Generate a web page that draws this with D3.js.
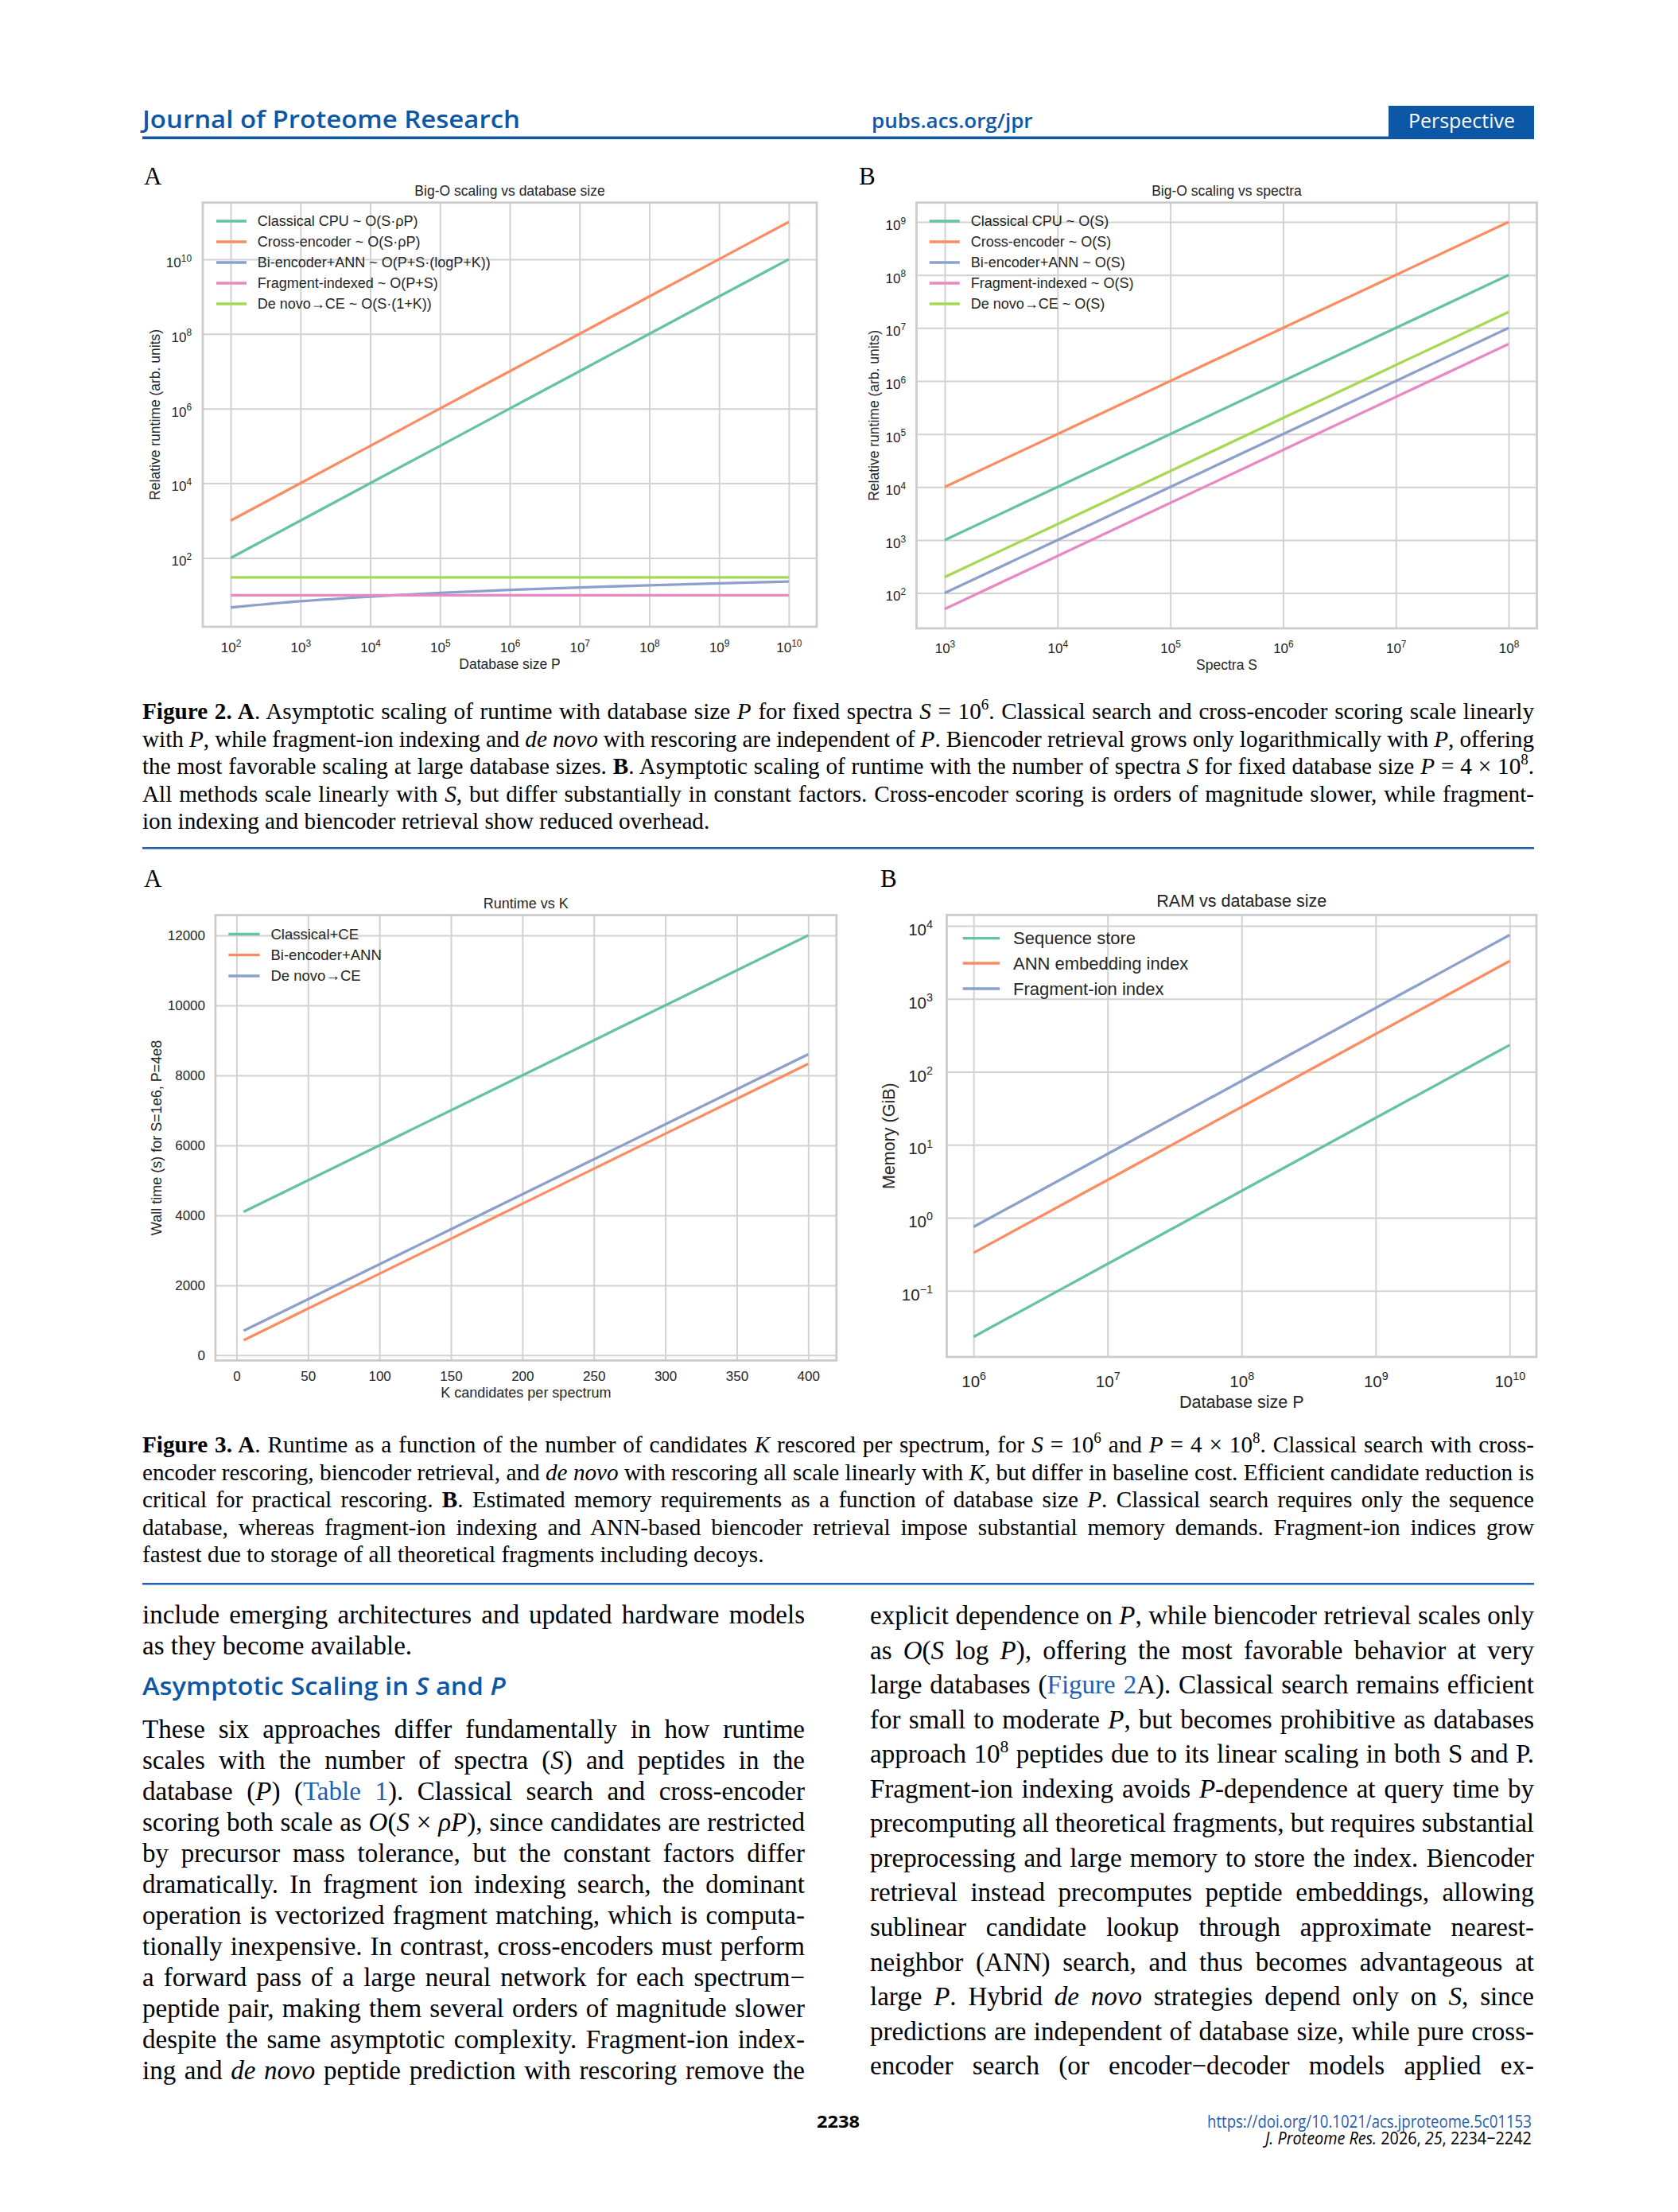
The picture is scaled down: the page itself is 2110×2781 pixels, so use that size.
<!DOCTYPE html>
<html>
<head>
<meta charset="utf-8">
<script src="https://cdn.jsdelivr.net/npm/d3@7"></script>
<style>
  body { margin: 0; background: #fff; }
  svg { display: block; }
</style>
</head>
<body>
<script>
/*    ========    DATA    =========    */

// Figure 2A : runtime vs database size P (S fixed)
var fig2a_P = [1e2, 1e3, 1e4, 1e5, 1e6, 1e7, 1e8, 1e9, 1e10];
var fig2a_classical = [1e2, 1e3, 1e4, 1e5, 1e6, 1e7, 1e8, 1e9, 1e10];
var fig2a_cross = [1e3, 1e4, 1e5, 1e6, 1e7, 1e8, 1e9, 1e10, 1e11];
var fig2a_biencoder = [4.7, 6.9, 9.2, 11.6, 13.9, 16.2, 18.5, 20.9, 23.2];
var fig2a_fragment = [10, 10, 10, 10, 10, 10, 10, 10, 10];
var fig2a_denovo = [30, 30, 30, 30, 30, 30, 30, 30, 30];
var fig2a_labels = ["Classical CPU ~ O(S·ρP)", "Cross-encoder ~ O(S·ρP)",
    "Bi-encoder+ANN ~ O(P+S·(logP+K))", "Fragment-indexed ~ O(P+S)", "De novo→CE ~ O(S·(1+K))"];
var fig2a_xticks = [1e2, 1e3, 1e4, 1e5, 1e6, 1e7, 1e8, 1e9, 1e10];
var fig2a_yticks = [1e2, 1e4, 1e6, 1e8, 1e10];

// Figure 2B : runtime vs spectra S (P fixed)
var fig2b_S = [1e3, 1e4, 1e5, 1e6, 1e7, 1e8];
var fig2b_classical = [1e3, 1e4, 1e5, 1e6, 1e7, 1e8];
var fig2b_cross = [1e4, 1e5, 1e6, 1e7, 1e8, 1e9];
var fig2b_biencoder = [1e2, 1e3, 1e4, 1e5, 1e6, 1e7];
var fig2b_fragment = [50, 500, 5e3, 5e4, 5e5, 5e6];
var fig2b_denovo = [200, 2e3, 2e4, 2e5, 2e6, 2e7];
var fig2b_labels = ["Classical CPU ~ O(S)", "Cross-encoder ~ O(S)", "Bi-encoder+ANN ~ O(S)",
    "Fragment-indexed ~ O(S)", "De novo→CE ~ O(S)"];
var fig2b_xticks = [1e3, 1e4, 1e5, 1e6, 1e7, 1e8];
var fig2b_yticks = [1e2, 1e3, 1e4, 1e5, 1e6, 1e7, 1e8, 1e9];

// Figure 3A : wall time vs K
var fig3a_K = [5, 50, 100, 150, 200, 250, 300, 350, 400];
var fig3a_classical = [4100, 5000, 6000, 7000, 8000, 9000, 10000, 11000, 12000];
var fig3a_biencoder = [430, 1330, 2330, 3330, 4330, 5330, 6330, 7330, 8330];
var fig3a_denovo = [700, 1600, 2600, 3600, 4600, 5600, 6600, 7600, 8600];
var fig3a_labels = ["Classical+CE", "Bi-encoder+ANN", "De novo→CE"];
var fig3a_xticks = [0, 50, 100, 150, 200, 250, 300, 350, 400];
var fig3a_yticks = [0, 2000, 4000, 6000, 8000, 10000, 12000];

// Figure 3B : memory vs database size
var fig3b_P = [1e6, 1e7, 1e8, 1e9, 1e10];
var fig3b_sequence = [0.0233, 0.233, 2.33, 23.3, 233];
var fig3b_ann = [0.33, 3.3, 33, 330, 3300];
var fig3b_fragment = [0.75, 7.5, 75, 750, 7500];
var fig3b_labels = ["Sequence store", "ANN embedding index", "Fragment-ion index"];
var fig3b_xticks = [1e6, 1e7, 1e8, 1e9, 1e10];
var fig3b_yticks = [1e-1, 1e0, 1e1, 1e2, 1e3, 1e4];

// Page text
var caption2 = [
    "<b>Figure 2. A</b>. Asymptotic scaling of runtime with database size <i>P</i> for fixed spectra <i>S</i> = 10<sup>6</sup>. Classical search and cross-encoder scoring scale linearly",
    "with <i>P</i>, while fragment-ion indexing and <i>de novo</i> with rescoring are independent of <i>P</i>. Biencoder retrieval grows only logarithmically with <i>P</i>, offering",
    "the most favorable scaling at large database sizes. <b>B</b>. Asymptotic scaling of runtime with the number of spectra <i>S</i> for fixed database size <i>P</i> = 4 × 10<sup>8</sup>.",
    "All methods scale linearly with <i>S</i>, but differ substantially in constant factors. Cross-encoder scoring is orders of magnitude slower, while fragment-",
    "ion indexing and biencoder retrieval show reduced overhead."
];
var caption3 = [
    "<b>Figure 3. A</b>. Runtime as a function of the number of candidates <i>K</i> rescored per spectrum, for <i>S</i> = 10<sup>6</sup> and <i>P</i> = 4 × 10<sup>8</sup>. Classical search with cross-",
    "encoder rescoring, biencoder retrieval, and <i>de novo</i> with rescoring all scale linearly with <i>K</i>, but differ in baseline cost. Efficient candidate reduction is",
    "critical for practical rescoring. <b>B</b>. Estimated memory requirements as a function of database size <i>P</i>. Classical search requires only the sequence",
    "database, whereas fragment-ion indexing and ANN-based biencoder retrieval impose substantial memory demands. Fragment-ion indices grow",
    "fastest due to storage of all theoretical fragments including decoys."
];
var bodyLeftTop = [
    "include emerging architectures and updated hardware models",
    "as they become available."
];
var bodyLeft = [
    "These six approaches differ fundamentally in how runtime",
    "scales with the number of spectra (<i>S</i>) and peptides in the",
    "database (<i>P</i>) (<a>Table 1</a>). Classical search and cross-encoder",
    "scoring both scale as <i>O</i>(<i>S</i> × <i>ρP</i>), since candidates are restricted",
    "by precursor mass tolerance, but the constant factors differ",
    "dramatically. In fragment ion indexing search, the dominant",
    "operation is vectorized fragment matching, which is computa-",
    "tionally inexpensive. In contrast, cross-encoders must perform",
    "a forward pass of a large neural network for each spectrum−",
    "peptide pair, making them several orders of magnitude slower",
    "despite the same asymptotic complexity. Fragment-ion index-",
    "ing and <i>de novo</i> peptide prediction with rescoring remove the"
];
var bodyRight = [
    "explicit dependence on <i>P</i>, while biencoder retrieval scales only",
    "as <i>O</i>(<i>S</i> log <i>P</i>), offering the most favorable behavior at very",
    "large databases (<a>Figure 2</a>A). Classical search remains efficient",
    "for small to moderate <i>P</i>, but becomes prohibitive as databases",
    "approach 10<sup>8</sup> peptides due to its linear scaling in both S and P.",
    "Fragment-ion indexing avoids <i>P</i>-dependence at query time by",
    "precomputing all theoretical fragments, but requires substantial",
    "preprocessing and large memory to store the index. Biencoder",
    "retrieval instead precomputes peptide embeddings, allowing",
    "sublinear candidate lookup through approximate nearest-",
    "neighbor (ANN) search, and thus becomes advantageous at",
    "large <i>P</i>. Hybrid <i>de novo</i> strategies depend only on <i>S</i>, since",
    "predictions are independent of database size, while pure cross-",
    "encoder search (or encoder−decoder models applied ex-"
];

/*    ========    SETTINGS    =========    */

var W = 2110, H = 2781;
var C_GREEN = "#66c2a5", C_ORANGE = "#fc8d62", C_BLUE = "#8da0cb", C_PINK = "#e78ac3", C_LIME = "#a6d854";
var GRID = "#d2d2d2", FRAME = "#cccccc", INK = "#262626";
var ACS_BLUE = "#0d58a6", LINK = "#1f60b0";
var SANS = "'Liberation Sans', Arial, 'DejaVu Sans', sans-serif";
var SERIF = "'Liberation Serif', 'Times New Roman', serif";
var HEAD = "'Open Sans', 'Noto Sans', sans-serif";

var svg = d3.select("body").append("svg").attr("width", W).attr("height", H);
svg.append("rect").attr("width", W).attr("height", H).attr("fill", "#fff");

/*    ========    FUNCTIONS    =========    */

// 5% margins like matplotlib, in log or linear space
function padDomain(vals, isLog) {
    var ex = d3.extent(vals);
    if (isLog) {
        var lo = Math.log10(ex[0]), hi = Math.log10(ex[1]), d = (hi - lo) * 0.05;
        return [Math.pow(10, lo - d), Math.pow(10, hi + d)];
    }
    var m = (ex[1] - ex[0]) * 0.05;
    return [ex[0] - m, ex[1] + m];
}

function supLabels(sel, fs) {
    sel.each(function(d) {
        var e = Math.round(Math.log10(d));
        var t = d3.select(this).text(null);
        t.append("tspan").text("10");
        t.append("tspan").attr("dy", -0.42 * fs).attr("font-size", 0.7 * fs)
            .text(e < 0 ? "−" + (-e) : String(e));
    });
}

function drawChart(c) {
    var g = svg.append("g").attr("font-family", SANS).attr("fill", INK);
    var x0 = c.box[0], y0 = c.box[1], x1 = c.box[2], y1 = c.box[3];
    var w = x1 - x0, h = y1 - y0;
    var allY = [].concat.apply([], c.series.map(function(s) { return s.values; }));

    var xs = (c.xlog ? d3.scaleLog() : d3.scaleLinear()).domain(padDomain(c.x, c.xlog)).range([x0, x1]);
    var ys = (c.ylog ? d3.scaleLog() : d3.scaleLinear()).domain(padDomain(allY, c.ylog)).range([y1, y0]);

    // gridlines
    g.append("g").attr("class", "grid").attr("transform", "translate(0," + y1 + ")")
        .call(d3.axisBottom(xs).tickValues(c.xTicks).tickSize(-h).tickFormat(""));
    g.append("g").attr("class", "grid").attr("transform", "translate(" + x0 + ",0)")
        .call(d3.axisLeft(ys).tickValues(c.yTicks).tickSize(-w).tickFormat(""));
    g.selectAll(".grid .domain").remove();
    g.selectAll(".grid line").attr("stroke", GRID).attr("stroke-width", 2);

    // frame
    g.append("rect").attr("x", x0).attr("y", y0).attr("width", w).attr("height", h)
        .attr("fill", "none").attr("stroke", FRAME).attr("stroke-width", 2.8);

    // series
    var line = d3.line()
        .x(function(d) { return xs(d[0]); })
        .y(function(d) { return ys(d[1]); })
        .curve(d3.curveMonotoneX);
    c.series.forEach(function(s) {
        g.append("path").datum(d3.zip(c.x, s.values))
            .attr("d", line).attr("fill", "none")
            .attr("stroke", s.color).attr("stroke-width", 3.3);
    });

    // x tick labels
    var xa = g.append("g").attr("transform", "translate(0," + c.xTickY + ")")
        .call(d3.axisBottom(xs).tickValues(c.xTicks).tickSize(0).tickPadding(0)
            .tickFormat(c.xlog ? function() { return ""; } : d3.format("d")));
    xa.select(".domain").remove();
    xa.attr("font-size", null).attr("font-family", null);
    xa.selectAll("text").attr("y", 0).attr("dy", null).attr("fill", INK).attr("font-size", c.tickFs);
    if (c.xlog) supLabels(xa.selectAll("text"), c.tickFs);

    // y tick labels
    var ya = g.append("g").attr("transform", "translate(" + c.yTickX + ",0)")
        .call(d3.axisLeft(ys).tickValues(c.yTicks).tickSize(0).tickPadding(0)
            .tickFormat(c.ylog ? function() { return ""; } : d3.format("d")));
    ya.select(".domain").remove();
    ya.attr("font-size", null).attr("font-family", null);
    ya.selectAll("text").attr("x", 0).attr("dy", c.yDy * c.tickFs).attr("fill", INK).attr("font-size", c.tickFs);
    if (c.ylog) supLabels(ya.selectAll("text"), c.tickFs);

    // title and axis labels
    g.append("text").attr("x", (x0 + x1) / 2).attr("y", c.titleY).attr("text-anchor", "middle")
        .attr("font-size", c.fs).text(c.title);
    g.append("text").attr("x", (x0 + x1) / 2).attr("y", c.xlabY).attr("text-anchor", "middle")
        .attr("font-size", c.fs).text(c.xlab);
    g.append("text").attr("transform", "translate(" + c.ylabX + "," + ((y0 + y1) / 2) + ") rotate(-90)")
        .attr("text-anchor", "middle").attr("font-size", c.fs).text(c.ylab);

    // legend
    c.series.forEach(function(s, i) {
        var yy = c.leg.rows[i];
        g.append("line").attr("x1", c.leg.lx[0]).attr("x2", c.leg.lx[1]).attr("y1", yy).attr("y2", yy)
            .attr("stroke", s.color).attr("stroke-width", 3.3);
        g.append("text").attr("x", c.leg.tx).attr("y", yy + 0.35 * c.legFs)
            .attr("font-size", c.legFs).text(s.label);
    });
}

// text with <b>, <i>, <sup>, <a>; optional justification to a width
function rich(x, y, html, o) {
    var t = svg.append("text").attr("x", x).attr("y", y)
        .attr("font-family", o.font).attr("font-size", o.size).attr("fill", o.color || "#000")
        .style("white-space", "pre");
    var tmp = document.createElement("div");
    tmp.innerHTML = html;
    var shift = 0, spaces = [];
    (function walk(node, st) {
        node.childNodes.forEach(function(n) {
            if (n.nodeType === 3) {
                n.textContent.split(/(?= )/).forEach(function(p) {
                    if (!p.length) return;
                    var ts = t.append("tspan").text(p);
                    if (st.b) ts.attr("font-weight", "bold");
                    if (st.i) ts.attr("font-style", "italic");
                    if (st.a) ts.attr("fill", LINK);
                    if (st.sup) ts.attr("font-size", o.size * 0.65);
                    var want = st.sup ? -o.size * 0.4 : 0;
                    if (want !== shift) { ts.attr("dy", want - shift); shift = want; }
                    if (p.charAt(0) === " ") spaces.push(ts);
                });
            } else {
                var s2 = Object.assign({}, st);
                s2[n.nodeName.toLowerCase()] = true;
                walk(n, s2);
            }
        });
    })(tmp, {});
    if (o.width && spaces.length) {
        var extra = (o.width - t.node().getComputedTextLength()) / spaces.length;
        spaces.forEach(function(s) { s.attr("dx", extra); });
    }
    if (o.fit) {
        var sx = o.fit / t.node().getComputedTextLength();
        t.attr("transform", "translate(" + x + ",0) scale(" + sx + ",1) translate(" + (-x) + ",0)");
    }
    return t;
}

function paragraph(lines, x, baselines, width, o, lastRagged) {
    lines.forEach(function(l, i) {
        var last = lastRagged && i === lines.length - 1;
        rich(x, baselines[i], l, Object.assign({}, o, { width: last ? 0 : width }));
    });
}

function seq(start, step, n) {
    var a = [];
    for (var i = 0; i < n; i++) a.push(start + i * step);
    return a;
}

/*    ========    HEADER    =========    */

rich(179, 161, "Journal of Proteome Research", { font: HEAD, size: 31, color: ACS_BLUE, fit: 459 })
    .attr("font-weight", 600);
rich(1096, 161, "pubs.acs.org/jpr", { font: HEAD, size: 25, color: ACS_BLUE, fit: 196 })
    .attr("font-weight", 600);
svg.append("rect").attr("x", 1746).attr("y", 133).attr("width", 183).attr("height", 40).attr("fill", ACS_BLUE);
rich(1771, 161, "Perspective", { font: HEAD, size: 25, color: "#fff", fit: 134 });
svg.append("rect").attr("x", 179).attr("y", 171.5).attr("width", 1750).attr("height", 3.5).attr("fill", ACS_BLUE);

/*    ========    CHARTS    =========    */

svg.append("text").attr("x", 181).attr("y", 232).attr("font-family", SERIF).attr("font-size", 31).text("A");
svg.append("text").attr("x", 1080).attr("y", 232).attr("font-family", SERIF).attr("font-size", 31).text("B");
svg.append("text").attr("x", 181).attr("y", 1115).attr("font-family", SERIF).attr("font-size", 31).text("A");
svg.append("text").attr("x", 1107).attr("y", 1115).attr("font-family", SERIF).attr("font-size", 31).text("B");

drawChart({
    box: [255, 254.7, 1027, 788], xlog: true, ylog: true,
    x: fig2a_P, xTicks: fig2a_xticks, yTicks: fig2a_yticks,
    series: [
        { values: fig2a_classical, color: C_GREEN, label: fig2a_labels[0] },
        { values: fig2a_cross, color: C_ORANGE, label: fig2a_labels[1] },
        { values: fig2a_biencoder, color: C_BLUE, label: fig2a_labels[2] },
        { values: fig2a_fragment, color: C_PINK, label: fig2a_labels[3] },
        { values: fig2a_denovo, color: C_LIME, label: fig2a_labels[4] }
    ],
    tickFs: 17, fs: 17.5, legFs: 18, yDy: 0.55,
    xTickY: 820, yTickX: 241, titleY: 246, xlabY: 841, ylabX: 201,
    title: "Big-O scaling vs database size", xlab: "Database size P", ylab: "Relative runtime (arb. units)",
    leg: { lx: [272, 310], tx: 323.7, rows: [278, 304, 330, 356, 382] }
});

drawChart({
    box: [1152.5, 254.7, 1932.5, 790], xlog: true, ylog: true,
    x: fig2b_S, xTicks: fig2b_xticks, yTicks: fig2b_yticks,
    series: [
        { values: fig2b_classical, color: C_GREEN, label: fig2b_labels[0] },
        { values: fig2b_cross, color: C_ORANGE, label: fig2b_labels[1] },
        { values: fig2b_biencoder, color: C_BLUE, label: fig2b_labels[2] },
        { values: fig2b_fragment, color: C_PINK, label: fig2b_labels[3] },
        { values: fig2b_denovo, color: C_LIME, label: fig2b_labels[4] }
    ],
    tickFs: 17, fs: 17.5, legFs: 18, yDy: 0.55,
    xTickY: 821, yTickX: 1139, titleY: 246, xlabY: 842, ylabX: 1105,
    title: "Big-O scaling vs spectra", xlab: "Spectra S", ylab: "Relative runtime (arb. units)",
    leg: { lx: [1168.7, 1206.8], tx: 1220.8, rows: [278, 304, 330, 356, 382] }
});

drawChart({
    box: [270.9, 1150.5, 1051.8, 1710.4], xlog: false, ylog: false,
    x: fig3a_K, xTicks: fig3a_xticks, yTicks: fig3a_yticks,
    series: [
        { values: fig3a_classical, color: C_GREEN, label: fig3a_labels[0] },
        { values: fig3a_biencoder, color: C_ORANGE, label: fig3a_labels[1] },
        { values: fig3a_denovo, color: C_BLUE, label: fig3a_labels[2] }
    ],
    tickFs: 17, fs: 18, legFs: 18.5, yDy: 0.35,
    xTickY: 1736, yTickX: 258, titleY: 1142, xlabY: 1757, ylabX: 203,
    title: "Runtime vs K", xlab: "K candidates per spectrum", ylab: "Wall time (s) for S=1e6, P=4e8",
    leg: { lx: [287.3, 326.5], tx: 340.5, rows: [1174.3, 1200.7, 1227] }
});

drawChart({
    box: [1190.5, 1150.3, 1932, 1706], xlog: true, ylog: true,
    x: fig3b_P, xTicks: fig3b_xticks, yTicks: fig3b_yticks,
    series: [
        { values: fig3b_sequence, color: C_GREEN, label: fig3b_labels[0] },
        { values: fig3b_ann, color: C_ORANGE, label: fig3b_labels[1] },
        { values: fig3b_fragment, color: C_BLUE, label: fig3b_labels[2] }
    ],
    tickFs: 20.5, fs: 21.5, legFs: 22, yDy: 0.56,
    xTickY: 1744, yTickX: 1173, titleY: 1140, xlabY: 1770, ylabX: 1125,
    title: "RAM vs database size", xlab: "Database size P", ylab: "Memory (GiB)",
    leg: { lx: [1210.7, 1257.2], tx: 1274, rows: [1179.7, 1211, 1243] }
});

/*    ========    CAPTIONS & BODY    =========    */

var capStyle = { font: SERIF, size: 29.2 };
paragraph(caption2, 179, seq(904, 34.5, 5), 1750, capStyle, true);
svg.append("rect").attr("x", 179).attr("y", 1065).attr("width", 1750).attr("height", 2.5).attr("fill", LINK);

paragraph(caption3, 179, seq(1826, 34.5, 5), 1750, capStyle, true);
svg.append("rect").attr("x", 179).attr("y", 1990).attr("width", 1750).attr("height", 2.5).attr("fill", LINK);

var bodyStyle = { font: SERIF, size: 33 };
paragraph(bodyLeftTop, 179, [2041, 2080], 833, bodyStyle, true);
rich(179, 2131, "Asymptotic Scaling in <i>S</i> and <i>P</i>", { font: HEAD, size: 30, color: ACS_BLUE, fit: 440 })
    .attr("font-weight", 600);
paragraph(bodyLeft, 179, seq(2185, 39, 12), 833, bodyStyle, false);
paragraph(bodyRight, 1094, seq(2042, 43.55, 14), 835, bodyStyle, false);

/*    ========    FOOTER    =========    */

rich(1027, 2675, "2238", { font: HEAD, size: 22, fit: 54 }).attr("font-weight", 700);
rich(1518, 2675, "https://doi.org/10.1021/acs.jproteome.5c01153", { font: HEAD, size: 22, color: LINK, fit: 408 });
rich(1591, 2696, "<i>J. Proteome Res.</i> 2026, <i>25</i>, 2234−2242", { font: HEAD, size: 22, fit: 335 });
</script>
</body>
</html>
